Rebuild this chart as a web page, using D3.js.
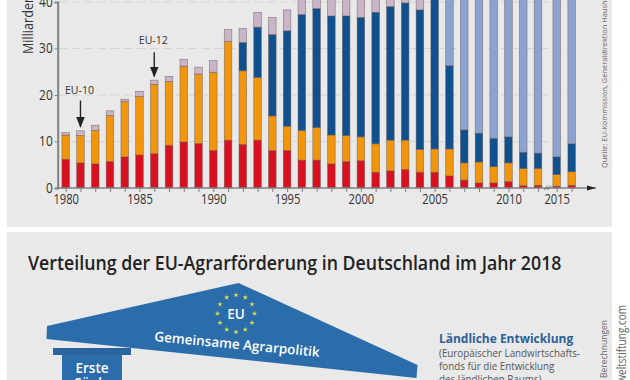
<!DOCTYPE html>
<html>
<head>
<meta charset="utf-8">
<script src="https://d3js.org/d3.v7.min.js"></script>
<style>
  html, body { margin: 0; padding: 0; background: #fff; }
  svg { display: block; font-family: "Open Sans", sans-serif; }
</style>
</head>
<body>
<div id="chart"></div>
<script>
const years = d3.range(1980, 2013).concat([2015, 2016]);
const labelYears = [1980, 1985, 1990, 1995, 2000, 2005, 2010, 2015];
const yTicks = [0, 10, 20, 30, 40];

// stacked amounts in Mrd. Euro
const red = [6.2, 5.4, 5.2, 5.7, 6.7, 7.1, 7.4, 9.2, 9.9, 9.6, 8.1, 10.3, 9.4, 10.3, 8.1, 8.1, 6, 6, 5.2, 5.7, 5.9, 3.4, 3.7, 4, 3.4, 3.4, 2.6, 1.7, 1.1, 1.1, 1.4, 0.5, 0.6, 0.4, 0.6];
const orange = [5.2, 5.9, 7.2, 9.9, 11.9, 12.6, 14.9, 13.7, 16.3, 14.9, 16.8, 21.2, 15.8, 13.5, 7.4, 5.2, 6.4, 7, 6.2, 5.6, 5.1, 6.1, 6.6, 6.3, 4.9, 5, 5.8, 3.7, 4.5, 3.5, 4, 3.7, 3.6, 2.5, 2.9];
const blue = [0, 0, 0, 0, 0, 0, 0, 0, 0, 0, 0, 0, 6.1, 10.8, 17.5, 20.5, 24.9, 25.6, 25.6, 25.7, 25.7, 28.3, 28.7, 29.5, 30, 33.5, 17.9, 7.1, 6.2, 6.1, 5.6, 3.5, 3.3, 3.8, 6];
const mauve = [0.5, 1, 1.1, 1, 0.5, 1.1, 0.9, 1.1, 1.5, 1.5, 2.5, 2.6, 3, 3.2, 3.7, 4.5, 4, 4.5, 5, 5, 5.5, 4.5, 4, 4, 4.5, 1, 0, 0, 0, 0, 0, 0, 0, 0, 0];
const lightBlue = [0, 0, 0, 0, 0, 0, 0, 0, 0, 0, 0, 0, 0, 0, 0, 0, 0, 0, 0, 0, 0, 0, 0, 0, 0, 0, 18, 30, 31, 32, 32, 35, 35, 36, 34];

const seriesNames = ["red", "orange", "blue", "mauve", "lightBlue"];
const seriesValues = [red, orange, blue, mauve, lightBlue];
const seriesColors = ["#d8101f", "#f0950c", "#10508f", "#c9b5c8", "#8da3cf"];

const enlargements = [
  { label: "EU-10", year: 1981, from: 18.8, to: 13.2, labelAt: 20.2 },
  { label: "EU-12", year: 1986, from: 29.2, to: 24, labelAt: 31 }
];

// the original uses a narrow font, so squeeze the text to its width
function squeeze(sel, k) {
  sel.each(function () {
    d3.select(this)
      .attr("textLength", this.getComputedTextLength() * k)
      .attr("lengthAdjust", "spacingAndGlyphs");
  });
  return sel;
}

const svg = d3.select("#chart").append("svg")
  .attr("width", 630)
  .attr("height", 380);

svg.append("defs").append("marker")
  .attr("id", "head")
  .attr("viewBox", "0 0 10 10")
  .attr("refX", 9).attr("refY", 5)
  .attr("markerUnits", "userSpaceOnUse")
  .attr("markerWidth", 11).attr("markerHeight", 13)
  .attr("orient", "auto")
  .append("path").attr("d", "M0,1L10,5L0,9Z").attr("fill", "#222");

// panels
svg.append("rect").attr("x", 7).attr("y", 0).attr("width", 605).attr("height", 227).attr("fill", "#e9e9e9");
svg.append("rect").attr("x", 7).attr("y", 232).attr("width", 605).attr("height", 148).attr("fill", "#e9e9e9");

// the axis jumps from 2012 to 2015
const x = d3.scaleLinear()
  .domain([1980, 2012, 2015, 2016])
  .range([65.7, 538, 556.7, 571.7]);
const y = d3.scaleLinear()
  .domain([0, 40])
  .range([188, 2]);

// grid
svg.append("g").selectAll("line")
  .data(yTicks.slice(1))
  .join("line")
  .attr("x1", 59).attr("x2", 578)
  .attr("y1", d => y(d)).attr("y2", d => y(d))
  .attr("stroke", "#d4d4d4")
  .attr("stroke-dasharray", "8 5");

// bars
const rows = years.map((year, i) => {
  const row = { year };
  seriesNames.forEach((name, s) => { row[name] = seriesValues[s][i]; });
  return row;
});
const stacked = d3.stack().keys(seriesNames)(rows);
const barWidth = 7.6;

svg.append("g").selectAll("g")
  .data(stacked)
  .join("g")
  .attr("fill", (d, i) => seriesColors[i])
  .selectAll("rect")
  .data(d => d.filter(p => p[1] > p[0]))
  .join("rect")
  .attr("x", d => x(d.data.year) - barWidth / 2)
  .attr("width", barWidth)
  .attr("y", d => y(d[1]))
  .attr("height", d => y(d[0]) - y(d[1]))
  .attr("stroke", "#6a5a58")
  .attr("stroke-opacity", 0.75)
  .attr("stroke-width", 0.6);

// axes
const yAxis = svg.append("g")
  .attr("transform", "translate(57.7,0)")
  .call(d3.axisLeft(y).tickValues(yTicks).tickSize(3).tickPadding(2));
yAxis.select(".domain").attr("stroke", "#808080").attr("stroke-width", 2);
yAxis.selectAll(".tick line").attr("stroke", "#808080");
yAxis.selectAll("text").attr("font-size", 14).attr("fill", "#333").attr("font-family", "Open Sans");
squeeze(yAxis.selectAll("text"), 0.85);

const xAxis = svg.append("g")
  .attr("transform", "translate(0,188)")
  .call(d3.axisBottom(x)
    .tickValues(years)
    .tickSize(4)
    .tickPadding(2)
    .tickFormat(d => labelYears.includes(d) ? d : ""));
xAxis.select(".domain").remove();
xAxis.selectAll(".tick line").attr("stroke", "#808080");
xAxis.selectAll("text").attr("font-size", 14).attr("fill", "#333").attr("font-family", "Open Sans");
squeeze(xAxis.selectAll("text").filter(d => labelYears.includes(d)), 0.8);
xAxis.append("line")
  .attr("x1", 57).attr("x2", 596)
  .attr("stroke", "#808080").attr("stroke-width", 1.5);
xAxis.append("path").attr("d", "M587,-2.5L596,0L587,2.5Z").attr("fill", "#222");
xAxis.append("path")
  .attr("d", "M544.5,2L548,-2.5M547.5,2L551,-2.5")
  .attr("stroke", "#555").attr("fill", "none").attr("stroke-width", 0.8);

// y title runs off the top of the picture
svg.append("text")
  .attr("transform", "translate(32.5,54) rotate(-90)")
  .attr("font-size", 14)
  .attr("fill", "#333")
  .text("Milliarden Euro")
  .call(squeeze, 0.9);

// enlargement arrows
const notes = svg.append("g").selectAll("g").data(enlargements).join("g");
notes.append("line")
  .attr("x1", d => x(d.year)).attr("x2", d => x(d.year))
  .attr("y1", d => y(d.from)).attr("y2", d => y(d.to))
  .attr("stroke", "#222").attr("stroke-width", 1.4)
  .attr("marker-end", "url(#head)");
notes.append("text")
  .attr("x", d => x(d.year) - 1)
  .attr("y", d => y(d.labelAt))
  .attr("text-anchor", "middle")
  .attr("font-size", 10.5)
  .attr("fill", "#333")
  .text(d => d.label);

// source lines on the right
svg.append("text")
  .attr("transform", "translate(607,168) rotate(-90)")
  .attr("font-size", 8)
  .attr("fill", "#666")
  .text("Quelle: EU-Kommission, Generaldirektion Haushalt")
  .call(squeeze, 0.93);
svg.append("text")
  .attr("transform", "translate(607,378) rotate(-90)")
  .attr("font-size", 8.5)
  .attr("fill", "#666")
  .text("Berechnungen");
svg.append("text")
  .attr("transform", "translate(626,305) rotate(-90)")
  .attr("text-anchor", "end")
  .attr("font-size", 12.5)
  .attr("fill", "#666")
  .text("weltstiftung.com")
  .call(squeeze, 0.8);

// lower panel
svg.append("text")
  .attr("x", 28).attr("y", 270)
  .attr("font-size", 19)
  .attr("font-weight", 600)
  .attr("fill", "#222")
  .text("Verteilung der EU-Agrarförderung in Deutschland im Jahr 2018")
  .call(squeeze, 0.935);

const line = d3.line();
svg.append("path")
  .attr("d", line([[62, 352], [122, 352], [122, 380], [62, 380]]) + "Z")
  .attr("fill", "#2b6cab");
svg.append("rect")
  .attr("x", 53).attr("y", 348).attr("width", 78).attr("height", 7)
  .attr("fill", "#2a64a0");
svg.append("path")
  .attr("d", line([[47, 326], [238.5, 283], [417.5, 365], [416.5, 378], [46.5, 339]]) + "Z")
  .attr("fill", "#2b6cab");

const starAngles = d3.range(12).map(i => i * Math.PI / 6);
svg.append("g").selectAll("path")
  .data(starAngles)
  .join("path")
  .attr("transform", a => `translate(${236 + 18.5 * Math.sin(a)},${313.5 - 18.5 * Math.cos(a)})`)
  .attr("d", d3.symbol(d3.symbolStar, 9))
  .attr("fill", "#dfe24a");
svg.append("text")
  .attr("x", 236).attr("y", 319)
  .attr("text-anchor", "middle")
  .attr("font-size", 13.5).attr("font-weight", 600)
  .attr("fill", "#fff")
  .text("EU");
svg.append("text")
  .attr("transform", "translate(154,341) rotate(5.5)")
  .attr("font-size", 13.5).attr("font-weight", 600)
  .attr("fill", "#fff")
  .text("Gemeinsame Agrarpolitik");
svg.append("text")
  .attr("x", 92).attr("y", 373)
  .attr("text-anchor", "middle")
  .attr("font-size", 13.5).attr("font-weight", 600)
  .attr("fill", "#fff")
  .text("Erste");
svg.append("text")
  .attr("x", 92).attr("y", 388)
  .attr("text-anchor", "middle")
  .attr("font-size", 13.5).attr("font-weight", 600)
  .attr("fill", "#fff")
  .text("Säule");

svg.append("text")
  .attr("x", 439).attr("y", 343)
  .attr("font-size", 13).attr("font-weight", 700)
  .attr("fill", "#2f5f96")
  .text("Ländliche Entwicklung")
  .call(squeeze, 0.92);
const ruralLines = ["(Europäischer Landwirtschafts-", "fonds für die Entwicklung", "des ländlichen Raums)"];
svg.append("g").selectAll("text")
  .data(ruralLines)
  .join("text")
  .attr("x", 439)
  .attr("y", (d, i) => 356.5 + i * 13)
  .attr("font-size", 11)
  .attr("fill", "#555")
  .text(d => d)
  .call(squeeze, 0.89);
</script>
</body>
</html>
